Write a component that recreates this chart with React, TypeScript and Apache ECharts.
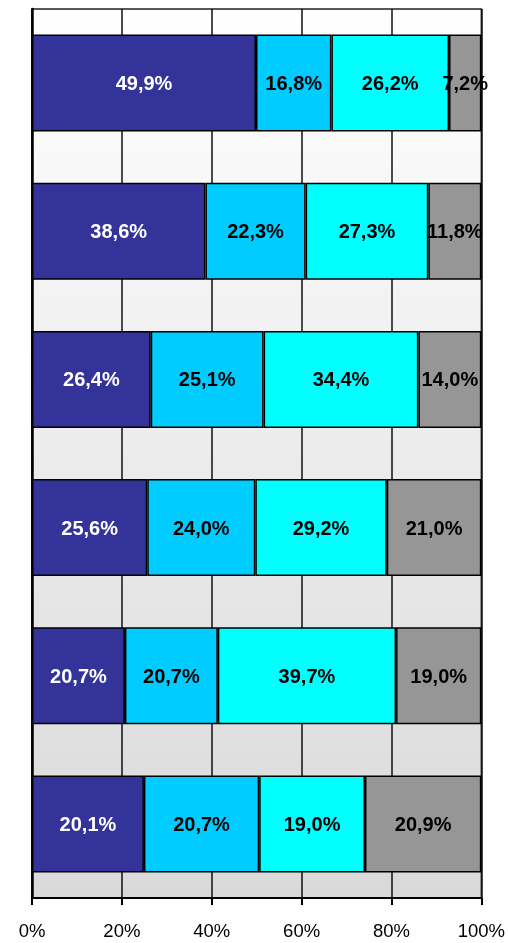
import React, { useEffect, useRef } from "react";
import * as echarts from "echarts";

const categories = ["R1", "R2", "R3", "R4", "R5", "R6"];
const seriesNames = ["S1", "S2", "S3", "S4"];
const s1 = [49.9, 38.6, 26.4, 25.6, 20.7, 20.1];
const s2 = [16.8, 22.3, 25.1, 24.0, 20.7, 20.7];
const s3 = [26.2, 27.3, 34.4, 29.2, 39.7, 19.0];
const s4 = [7.2, 11.8, 14.0, 21.0, 19.0, 20.9];
const xTicks = [0, 20, 40, 60, 80, 100];

const colors = ["#333399", "#00ccff", "#00ffff", "#969696"];
const labelColors = ["#ffffff", "#000000", "#000000", "#000000"];
const FONT = "'Liberation Sans', Arial, sans-serif";

export default function App() {
  const ref = useRef<HTMLDivElement>(null);
  useEffect(() => {
    if (!ref.current) return;
    const chart = echarts.init(ref.current, undefined, {
      renderer: "svg",
      width: 508,
      height: 943,
    });
    const all = [s1, s2, s3, s4];
    const sums = categories.map((_, i) => all.reduce((a, s) => a + s[i], 0));
    const fmt = (v: number) => v.toFixed(1).replace(".", ",") + "%";
    chart.setOption({
      animation: false,
      grid: {
        left: 32,
        right: 26,
        top: 9,
        bottom: 45,
        show: true,
        borderColor: "#222",
        borderWidth: 1.5,
        backgroundColor: new echarts.graphic.LinearGradient(0, 0, 0, 1, [
          { offset: 0, color: "#ffffff" },
          { offset: 1, color: "#d9d9d9" },
        ]),
      },
      xAxis: {
        type: "value",
        min: 0,
        max: 100,
        interval: 20,
        axisLine: { show: true, lineStyle: { color: "#000", width: 2 } },
        axisTick: { show: true, length: 7, lineStyle: { color: "#000", width: 2 } },
        axisLabel: {
          formatter: (v: number) => (xTicks.includes(v) ? v + "%" : ""),
          color: "#000",
          fontSize: 18.5,
          fontFamily: FONT,
          margin: 23,
        },
        splitLine: { show: true, lineStyle: { color: "#111", width: 1.5 } },
      },
      yAxis: {
        type: "category",
        data: categories,
        inverse: true,
        axisLine: { show: true, lineStyle: { color: "#000", width: 2.5 } },
        axisTick: { show: false },
        axisLabel: { show: false },
        splitLine: { show: false },
      },
      series: all.map((s, k) => ({
        name: seriesNames[k],
        type: "bar",
        stack: "total",
        barCategoryGap: "34.5%",
        data: s.map((v, i) => ({ value: (v / sums[i]) * 100, raw: v })),
        itemStyle: { color: colors[k], borderColor: "#000", borderWidth: 1.5 },
        label: {
          show: true,
          position: "inside",
          formatter: (p: any) => fmt(p.data.raw),
          color: labelColors[k],
          fontWeight: "bold",
          fontSize: 20,
          fontFamily: FONT,
        },
      })),
    });
    return () => chart.dispose();
  }, []);
  return (
    <div
      ref={ref}
      style={{ position: "fixed", left: 0, top: 0, width: 508, height: 943 }}
    />
  );
}
